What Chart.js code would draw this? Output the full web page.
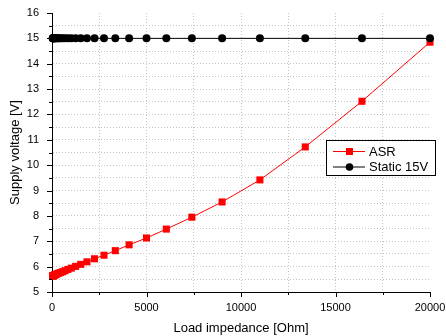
<!DOCTYPE html>
<html>
<head>
<meta charset="utf-8">
<script src="https://cdn.jsdelivr.net/npm/chart.js@4/dist/chart.umd.min.js"></script>
<style>
html,body{margin:0;padding:0;background:#fff;}
canvas{display:block;}
</style>
</head>
<body>
<canvas id="c" width="446" height="336"></canvas>
<script>
// ---- data ----
const loadImpedance = [20000, 16400, 13400, 11000, 9000, 7400, 6050, 5000, 4080, 3350, 2750, 2250, 1850, 1520, 1250, 1020, 840, 690, 565, 460, 380, 310, 255, 210, 170, 140, 115, 95, 78, 64, 52, 43, 35];
const asrVoltage = [14.85, 12.52, 10.72, 9.42, 8.55, 7.95, 7.48, 7.13, 6.86, 6.63, 6.45, 6.31, 6.19, 6.09, 6.01, 5.94, 5.89, 5.84, 5.80, 5.77, 5.75, 5.73, 5.71, 5.69, 5.68, 5.67, 5.66, 5.65, 5.65, 5.64, 5.64, 5.63, 5.63];
const staticVoltage = [15, 15, 15, 15, 15, 15, 15, 15, 15, 15, 15, 15, 15, 15, 15, 15, 15, 15, 15, 15, 15, 15, 15, 15, 15, 15, 15, 15, 15, 15, 15, 15, 15];
const seriesNames = ['ASR', 'Static 15V'];
const xTickLabels = ['0', '5000', '10000', '15000', '20000'];
const yTickLabels = ['5', '6', '7', '8', '9', '10', '11', '12', '13', '14', '15', '16'];
const xTitle = 'Load impedance [Ohm]';
const yTitle = 'Supply voltage [V]';

const FONT = "'Liberation Sans', Arial, sans-serif";
Chart.defaults.font.family = FONT;
Chart.defaults.color = '#000';

const toPts = (xs, ys) => xs.map((x, i) => ({x: x, y: ys[i]}));

const tickPlugin = {
  id: 'tickMarks',
  afterDraw(chart) {
    const ctx = chart.ctx;
    const xs = chart.scales.x, ys = chart.scales.y;
    const area = chart.chartArea;
    ctx.save();
    ctx.strokeStyle = '#000';
    ctx.lineWidth = 1;
    ctx.beginPath();
    for (let v = 0; v <= 20000; v += 2500) {
      const px = Math.round(xs.getPixelForValue(v)) + 0.5;
      const len = (v % 5000 === 0) ? 5 : 3;
      ctx.moveTo(px, area.bottom);
      ctx.lineTo(px, area.bottom + len);
    }
    for (let v = 5; v <= 16.001; v += 0.5) {
      const py = Math.round(ys.getPixelForValue(v)) + 0.5;
      const len = (Math.abs(v - Math.round(v)) < 0.01) ? 5 : 3;
      ctx.moveTo(area.left, py);
      ctx.lineTo(area.left - len, py);
    }
    ctx.stroke();

    // legend box
    const bx = 326.5, by = 140.5, bw = 109, bh = 35;
    ctx.fillStyle = '#fff';
    ctx.fillRect(bx, by, bw, bh);
    ctx.strokeStyle = '#000';
    ctx.strokeRect(bx, by, bw, bh);
    const rows = [
      {name: seriesNames[0], color: '#ff0000', shape: 'rect', y: 151.5},
      {name: seriesNames[1], color: '#000000', shape: 'circle', y: 167}
    ];
    ctx.font = '13px ' + FONT;
    ctx.textBaseline = 'middle';
    ctx.textAlign = 'left';
    rows.forEach(r => {
      ctx.strokeStyle = r.color;
      ctx.fillStyle = r.color;
      ctx.beginPath();
      ctx.moveTo(333, r.y);
      ctx.lineTo(365, r.y);
      ctx.stroke();
      if (r.shape === 'rect') {
        ctx.fillRect(346, r.y - 3.5, 7, 7);
      } else {
        ctx.beginPath();
        ctx.arc(349.5, r.y, 3.8, 0, Math.PI * 2);
        ctx.fill();
      }
      ctx.fillStyle = '#000';
      ctx.fillText(r.name, 369, r.y + 0.5);
    });
    ctx.restore();
  }
};

new Chart(document.getElementById('c'), {
  type: 'scatter',
  data: {
    datasets: [
      {
        label: seriesNames[0],
        data: toPts(loadImpedance, asrVoltage),
        showLine: true,
        borderColor: '#ff0000',
        backgroundColor: '#ff0000',
        borderWidth: 1,
        pointStyle: 'rect',
        pointRadius: 5,
        pointBorderWidth: 0,
        clip: false,
        order: 1
      },
      {
        label: seriesNames[1],
        data: toPts(loadImpedance, staticVoltage),
        showLine: true,
        borderColor: '#000000',
        backgroundColor: '#000000',
        borderWidth: 1,
        pointStyle: 'circle',
        pointRadius: 4,
        pointBorderWidth: 0,
        clip: false,
        order: 0
      }
    ]
  },
  options: {
    responsive: false,
    devicePixelRatio: 1,
    animation: false,
    layout: {padding: {left: 0, top: 13, right: 16, bottom: 0}},
    plugins: {legend: {display: false}, tooltip: {enabled: false}},
    scales: {
      x: {
        type: 'linear',
        min: 0, max: 20000,
        afterFit: s => { s.height = 44; s.paddingLeft = 0; s.paddingRight = 0; },
        afterBuildTicks: s => {
          const t = [];
          for (let v = 0; v <= 20000; v += 2500) t.push({value: v});
          s.ticks = t;
        },
        ticks: {
          autoSkip: false, maxRotation: 0, padding: 9,
          font: {size: 11}, color: '#000',
          callback: v => (v % 5000 === 0) ? xTickLabels[v / 5000] : ''
        },
        grid: {
          drawTicks: false,
          lineWidth: 1,
          color: c => (c.tick && (c.tick.value === 0 || c.tick.value === 20000)) ? 'rgba(0,0,0,0)' : '#c4c4c4'
        },
        border: {display: true, color: '#000', width: 1, dash: [1, 2]},
        title: {display: true, text: xTitle, font: {size: 13}, color: '#000', padding: {top: 3, bottom: 0}}
      },
      y: {
        type: 'linear',
        min: 5, max: 16,
        afterFit: s => { s.width = 52; s.paddingTop = 0; s.paddingBottom = 0; },
        afterBuildTicks: s => {
          const t = [];
          for (let i = 0; i <= 22; i++) t.push({value: 5 + i * 0.5});
          s.ticks = t;
        },
        ticks: {
          autoSkip: false, padding: 13,
          font: {size: 11}, color: '#000',
          callback: v => Number.isInteger(v) ? yTickLabels[v - 5] : ''
        },
        grid: {
          drawTicks: false,
          lineWidth: 1,
          color: c => (c.tick && (c.tick.value === 5 || c.tick.value === 16)) ? 'rgba(0,0,0,0)' : '#c4c4c4'
        },
        border: {display: true, color: '#000', width: 1, dash: [1, 2]},
        title: {display: true, text: yTitle, font: {size: 13}, color: '#000', padding: {top: 8, bottom: 0}}
      }
    }
  },
  plugins: [tickPlugin]
});
</script>
</body>
</html>
